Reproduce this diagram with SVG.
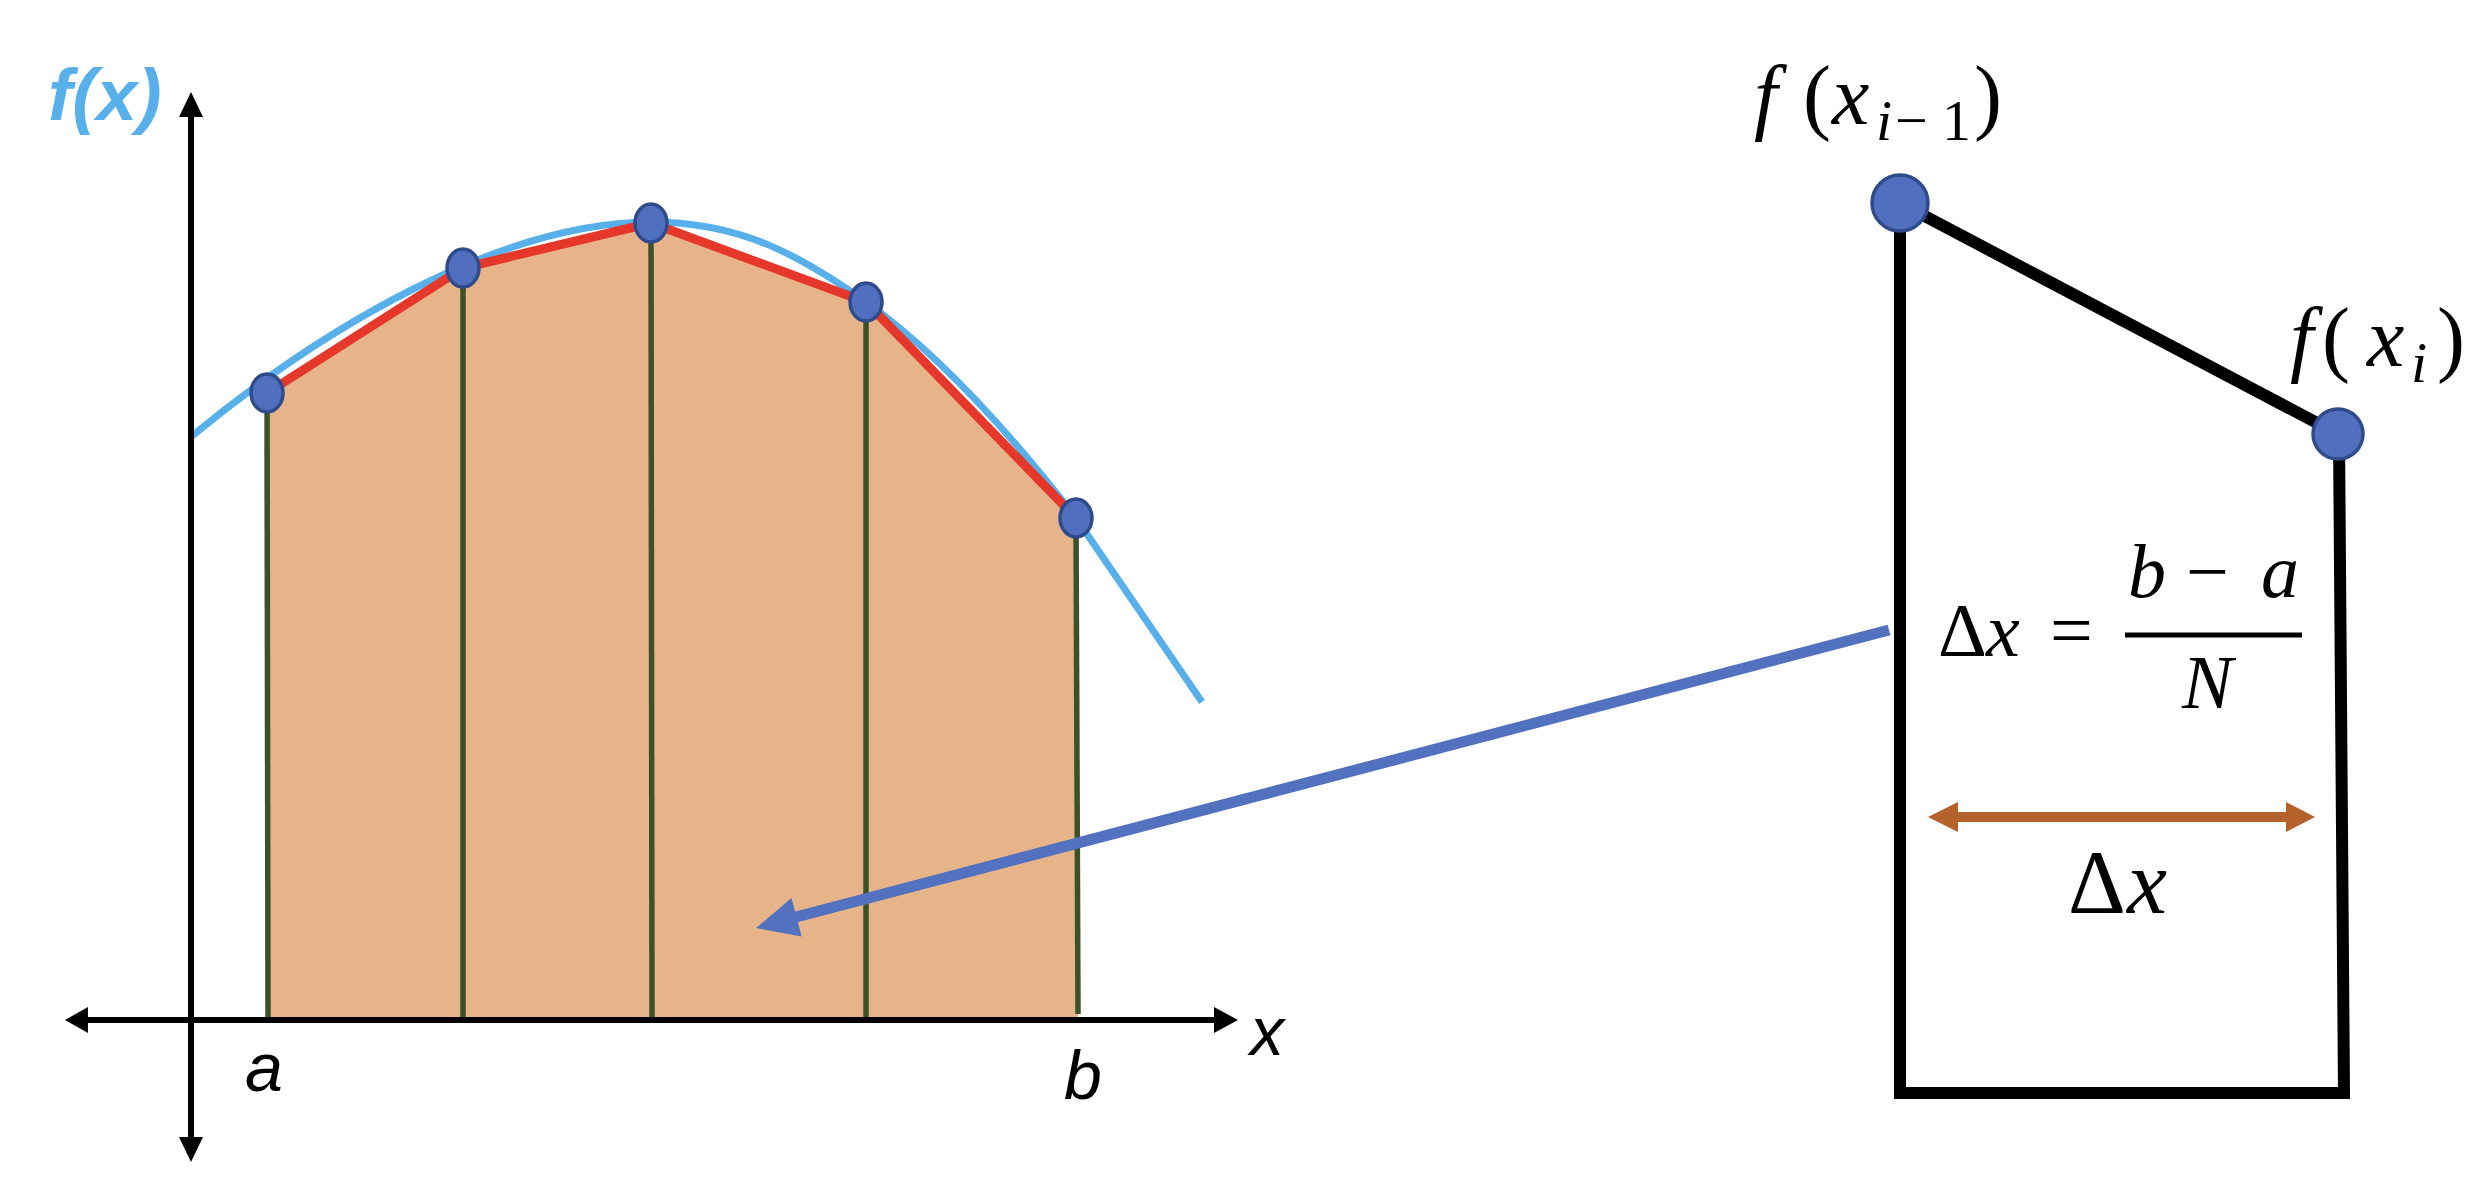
<svg xmlns="http://www.w3.org/2000/svg" width="2484" height="1178" viewBox="0 0 2484 1178">
<style>
.axis{stroke:#000;stroke-width:6;fill:none}
.grid{stroke:#3B5127;stroke-width:5.5;fill:none}
.dot{fill:#5070BF;stroke:#2F4B8B;stroke-width:3.5}
.lbl{font-family:"Liberation Sans",Arial,sans-serif;font-style:italic;fill:#000}
.m{font-family:"Liberation Serif","Times New Roman",serif;fill:#000}
.i{font-style:italic}
</style>
<rect width="2484" height="1178" fill="#fff"/>
<g id="plot">
  <polygon points="267,1017 267,393 463,268 651,223 866,302 1078,518 1078,1017" fill="#E7B48A"/>
  <path d="M192,436 C320,330 500,222 651,222 C740,222 800,255 866,302 S1000,420 1076,518 L1202,702" fill="none" stroke="#57B0EA" stroke-width="7"/>
  <line class="grid" x1="267" y1="393" x2="268" y2="1017"/>
  <line class="grid" x1="463" y1="268" x2="463" y2="1017"/>
  <line class="grid" x1="651" y1="223" x2="652" y2="1017"/>
  <line class="grid" x1="866" y1="302" x2="866" y2="1017"/>
  <line class="grid" x1="1076" y1="518" x2="1078" y2="1014"/>
  <polyline points="267,393 463,268 651,223 866,302 1076,518" fill="none" stroke="#E5372A" stroke-width="9" stroke-linejoin="round"/>
</g>
<g id="axes">
  <line class="axis" x1="191" y1="112" x2="191" y2="1142"/>
  <polygon points="191,92 179,117 203,117" fill="#000"/>
  <polygon points="191,1162 179,1137 203,1137" fill="#000"/>
  <line class="axis" x1="80" y1="1020" x2="1222" y2="1020" stroke-width="7"/>
  <polygon points="65,1020 88,1007 88,1033" fill="#000"/>
  <polygon points="1238,1020 1214,1007 1214,1033" fill="#000"/>
  <text x="48" y="120" font-family="Liberation Sans,Arial,sans-serif" font-weight="bold" font-style="italic" font-size="73" fill="#57B0EA">f(x)</text>
  <text class="lbl" x="245" y="1091" font-size="68">a</text>
  <text class="lbl" x="1064" y="1099" font-size="68">b</text>
  <text class="lbl" x="1250" y="1055" font-size="68">x</text>
</g>
<g id="points">
  <ellipse class="dot" cx="267" cy="393" rx="16" ry="19"/>
  <ellipse class="dot" cx="463" cy="268" rx="16" ry="19"/>
  <ellipse class="dot" cx="651" cy="223" rx="16" ry="19"/>
  <ellipse class="dot" cx="866" cy="302" rx="16" ry="19"/>
  <ellipse class="dot" cx="1076" cy="518" rx="16" ry="19"/>
</g>
<g id="trapezoid">
  <polyline points="1900,203 1900,1093 2344,1093 2339,434" fill="none" stroke="#000" stroke-width="12" stroke-linejoin="miter"/>
  <line x1="1900" y1="203" x2="2338" y2="434" stroke="#000" stroke-width="12"/>
  <circle class="dot" cx="1900" cy="203" r="28"/>
  <circle class="dot" cx="2338" cy="434" r="25"/>
  <text class="m" y="124" font-size="84"><tspan class="i" x="1754">f</tspan><tspan x="1803">(</tspan><tspan class="i" x="1832">x</tspan></text>
  <text class="m" y="140" font-size="58"><tspan class="i" x="1876">i</tspan><tspan x="1895">−</tspan><tspan x="1942">1</tspan></text>
  <text class="m" x="1974" y="124" font-size="84">)</text>
  <text class="m" y="366" font-size="84"><tspan class="i" x="2290">f</tspan><tspan x="2322">(</tspan><tspan class="i" x="2367">x</tspan></text>
  <text class="m i" x="2411" y="382" font-size="58">i</text>
  <text class="m" x="2437" y="366" font-size="84">)</text>
  <text class="m" y="656" font-size="76"><tspan x="1938">Δ</tspan><tspan class="i" x="1986">x</tspan><tspan x="2050">=</tspan></text>
  <text class="m" y="597" font-size="76"><tspan class="i" x="2128">b</tspan><tspan x="2186">−</tspan><tspan class="i" x="2261">a</tspan></text>
  <line x1="2125" y1="635" x2="2302" y2="635" stroke="#000" stroke-width="5"/>
  <text class="m i" x="2182" y="708" font-size="76">N</text>
  <line x1="1955" y1="817" x2="2288" y2="817" stroke="#B5612B" stroke-width="10"/>
  <polygon points="1928,817 1958,802 1958,832" fill="#B5612B"/>
  <polygon points="2315,817 2286,802 2286,832" fill="#B5612B"/>
  <text class="m" y="913" font-size="90"><tspan x="2068">Δ</tspan><tspan class="i" x="2127">x</tspan></text>
</g>
<g id="connectors">
  <line x1="1889" y1="630" x2="796" y2="917" stroke="#5272BF" stroke-width="11"/>
  <polygon points="756,928 801.7,936.6 791.5,898" fill="#5272BF"/>
</g>
</svg>
